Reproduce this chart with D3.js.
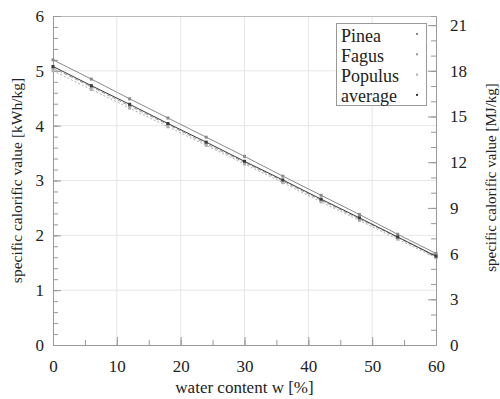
<!DOCTYPE html>
<html><head><meta charset="utf-8">
<script src="https://cdn.jsdelivr.net/npm/d3@7"></script>
<style>body{margin:0;background:#fff}svg{display:block}text{font-family:"Liberation Serif","DejaVu Serif",serif;fill:#222}</style>
</head><body>
<svg id="c" width="500" height="399"></svg>
<script>
const waterContent = [0, 6, 12, 18, 24, 30, 36, 42, 48, 54, 60];
const pinea   = [5.20, 4.85, 4.49, 4.14, 3.79, 3.44, 3.08, 2.73, 2.38, 2.02, 1.67];
const fagus   = [5.05, 4.71, 4.36, 4.02, 3.67, 3.33, 2.99, 2.64, 2.30, 1.96, 1.61];
const populus = [5.00, 4.66, 4.32, 3.98, 3.64, 3.30, 2.96, 2.61, 2.27, 1.93, 1.59];
const average = [5.08, 4.73, 4.39, 4.04, 3.70, 3.35, 3.01, 2.66, 2.32, 1.97, 1.62];
const seriesNames = ["Pinea", "Fagus", "Populus", "average"];
const xTicks = [0, 10, 20, 30, 40, 50, 60];
const yTicks = [0, 1, 2, 3, 4, 5, 6];
const y2Ticks = [0, 3, 6, 9, 12, 15, 18, 21];

const series = [
  {name: seriesNames[0], values: pinea,   color: "#8a8a8a", dash: null,  w: 1},
  {name: seriesNames[1], values: fagus,   color: "#9a9a9a", dash: "4,2", w: 1},
  {name: seriesNames[2], values: populus, color: "#b0b0b0", dash: "2,2", w: 1},
  {name: seriesNames[3], values: average, color: "#3a3a3a", dash: null,  w: 1}
];

const svg = d3.select("#c");
const L = 53, R = 436, T = 16, B = 345;
const x = d3.scaleLinear().domain([0, 60]).range([L, R]);
const y = d3.scaleLinear().domain([0, 6]).range([B, T]);
const y2 = d3.scaleLinear().domain([0, 21.6]).range([B, T]);
const axisColor = "#999";

// grid
const g = svg.append("g");
g.selectAll(".gx").data(xTicks.slice(1, -1)).join("line")
  .attr("x1", d => x(d)).attr("x2", d => x(d)).attr("y1", T).attr("y2", B)
  .attr("stroke", "#e6e6e6").attr("stroke-width", 1);
g.selectAll(".gy").data(yTicks.slice(1, -1)).join("line")
  .attr("x1", L).attr("x2", R).attr("y1", d => y(d)).attr("y2", d => y(d))
  .attr("stroke", "#e6e6e6").attr("stroke-width", 1);
// top border
g.append("line").attr("x1", L).attr("x2", R).attr("y1", T + 0.5).attr("y2", T + 0.5).attr("stroke", "#bbb");

function styleAxis(sel) {
  sel.select(".domain").attr("stroke", axisColor);
  sel.selectAll(".tick line").attr("stroke", axisColor);
  sel.selectAll("text").attr("font-size", 17).attr("fill", "#222")
    .style("font-family", '"Liberation Serif", serif');
}

// minor ticks
const xMinor = d3.range(0, 61, 5);
const yMinor = d3.range(0, 6.01, 0.2);
const y2Minor = d3.range(0, 21.01, 1);

const xa = svg.append("g").attr("transform", `translate(0,${B})`)
  .call(d3.axisBottom(x).tickValues(xMinor).tickSize(-5).tickFormat(""));
styleAxis(xa);
const xb = svg.append("g").attr("transform", `translate(0,${B})`)
  .call(d3.axisBottom(x).tickValues(xTicks).tickSize(-8).tickPadding(15).tickFormat(d3.format("d")));
styleAxis(xb); xb.select(".domain").remove();

const ya = svg.append("g").attr("transform", `translate(${L},0)`)
  .call(d3.axisLeft(y).tickValues(yMinor).tickSize(-5).tickFormat(""));
styleAxis(ya);
const yb = svg.append("g").attr("transform", `translate(${L},0)`)
  .call(d3.axisLeft(y).tickValues(yTicks).tickSize(-8).tickPadding(9).tickFormat(d3.format("d")));
styleAxis(yb); yb.select(".domain").remove();

const ra = svg.append("g").attr("transform", `translate(${R},0)`)
  .call(d3.axisRight(y2).tickValues(y2Minor).tickSize(-5).tickFormat(""));
styleAxis(ra);
const rb = svg.append("g").attr("transform", `translate(${R},0)`)
  .call(d3.axisRight(y2).tickValues(y2Ticks).tickSize(-8).tickPadding(14).tickFormat(d3.format("d")));
styleAxis(rb); rb.select(".domain").remove();

// lines
const line = d3.line().x((d, i) => x(waterContent[i])).y(d => y(d));
series.forEach(s => {
  svg.append("path").datum(s.values).attr("d", line)
    .attr("fill", "none").attr("stroke", s.color).attr("stroke-width", s.w)
    .attr("stroke-dasharray", s.dash);
  svg.selectAll(null).data(s.values).join("rect")
    .attr("x", (d, i) => x(waterContent[i]) - 1.5).attr("y", d => y(d) - 1.5)
    .attr("width", 3).attr("height", 3).attr("fill", s.color);
});

// legend
const lg = svg.append("g");
lg.append("rect").attr("x", 336.5).attr("y", 23.5).attr("width", 90).attr("height", 82)
  .attr("fill", "#fff").attr("stroke", "#999");
series.forEach((s, i) => {
  lg.append("text").attr("x", 341).attr("y", 41.5 + i * 20.3).attr("font-size", 18).text(s.name);
  lg.append("rect").attr("x", 416).attr("y", 33 + i * 20.3).attr("width", 2).attr("height", 2).attr("fill", s.color);
});

// titles
svg.append("text").attr("x", (L + R) / 2).attr("y", 393).attr("text-anchor", "middle")
  .attr("font-size", 17).text("water content w [%]");
svg.append("text").attr("transform", `translate(22,${(T + B) / 2}) rotate(-90)`)
  .attr("text-anchor", "middle").attr("font-size", 15.5).text("specific calorific value [kWh/kg]");
svg.append("text").attr("transform", `translate(496,${(T + B) / 2 - 3}) rotate(-90)`)
  .attr("text-anchor", "middle").attr("font-size", 15).text("specific calorific value [MJ/kg]");
</script>
</body></html>
